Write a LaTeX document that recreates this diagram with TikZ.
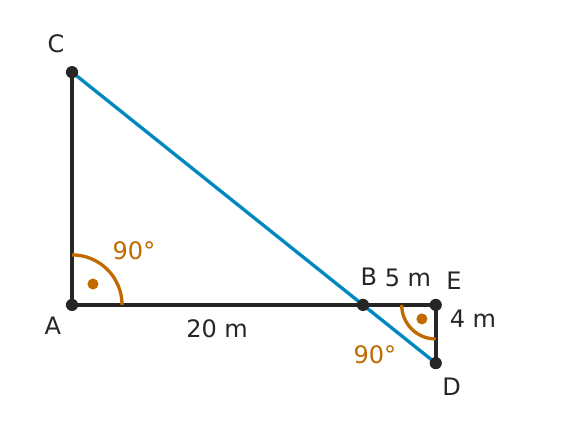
\documentclass[tikz,border=0pt]{standalone}
\usepackage{fontspec}
\setmainfont{DejaVu Sans}
\definecolor{linegray}{HTML}{262626}
\definecolor{hypblue}{HTML}{0087BD}
\definecolor{angorange}{HTML}{C06A00}
\begin{document}
\begin{tikzpicture}[x=0.4cm,y=0.4cm,
    every node/.style={text=linegray,font=\fontsize{18.8}{22}\selectfont},
    side/.style={draw=linegray,line width=2.8pt},
    angmark/.style={draw=angorange,line width=2.6pt}]
    \useasboundingbox (-4.95,-8.93) rectangle (34.64,20.96);
    \coordinate (A) at (0,0);
    \coordinate (B) at (20,0);
    \coordinate (E) at (25,0);
    \coordinate (D) at (25,-4);
    \coordinate (C) at (0,16);
    \draw[draw=hypblue,line width=2.6pt] (C)--(D);
    \draw[side] (C)--(A)--(E)--(D);
    \draw[angmark] (3.44,0) arc (0:90:3.44);
    \draw[angmark] (E)++(-2.34,0) arc (180:270:2.34);
    \fill[angorange] (1.44,1.44) circle (0.38);
    \fill[angorange] (24.05,-0.96) circle (0.38);
    \foreach \p in {A,B,C,D,E}
    \fill[linegray] (\p) circle (0.42);
    \node at (-1.10,17.94) {C};
    \node at (-1.31,-1.44) {A};
    \node at (20.41,1.92) {B};
    \node at (26.25,1.65) {E};
    \node at (26.1,-5.64) {D};
    \node at (23.09,1.86) {5 m};
    \node at (27.56,-0.96) {4 m};
    \node at (9.97,-1.65) {20 m};
    \node[text=angorange] at (4.26,3.71) {90°};
    \node[text=angorange] at (20.82,-3.44) {90°};
\end{tikzpicture}
\end{document}
